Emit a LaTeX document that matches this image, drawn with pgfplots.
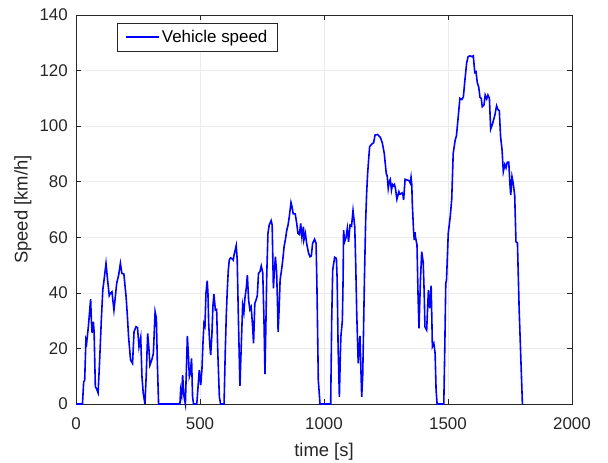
\documentclass[border=0pt]{standalone}
\usepackage{fontspec}
\setmainfont{Liberation Sans}
\usepackage{pgfplots}
\pgfplotsset{compat=1.18}

\definecolor{axcol}{RGB}{38,38,38}
\definecolor{gridcol}{RGB}{235,235,235}

\begin{document}
\begin{tikzpicture}
\begin{axis}[
  scale only axis, width=496bp, height=389bp,
  at={(0,0)}, anchor=south west,
  xmin=0, xmax=2000, ymin=0, ymax=140,
  clip=false,
  xtick={0,500,1000,1500,2000}, ytick={0,20,40,60,80,100,120,140},
  scaled ticks=false,
  /pgf/number format/1000 sep={},
  /pgf/number format/assume math mode=true,
  grid=major, grid style={gridcol, line width=0.6bp},
  tick align=inside, major tick length=5bp,
  axis line style={axcol, line width=0.6bp},
  every tick/.style={axcol, line width=0.6bp},
  tick label style={font=\fontsize{17}{19}\selectfont, text=axcol},
  xticklabel style={anchor=center, yshift=-20bp},
  yticklabel style={anchor=east, inner sep=0pt, xshift=-8bp},
  label style={font=\fontsize{18.5}{21}\selectfont, text=axcol},
  xlabel={time [s]}, ylabel={Speed [km/h]},
  xlabel style={at={(axis description cs:0.5,-0.124)}, anchor=center},
  ylabel style={at={(axis description cs:-0.107,0.5)}, anchor=center},
  legend style={at={(rel axis cs:0.083,0.979)}, anchor=north west,
    draw=axcol, fill=white,
    font=\fontsize{17}{19}\selectfont, inner xsep=8bp, inner ysep=5bp},
  legend cell align=left,
  legend image code/.code={\draw[#1, draw=blue, line width=1.6bp] (0bp,0bp) -- (33bp,0bp);},
]
\addplot[draw=blue, line width=1.6bp] coordinates {
(0,0) (26,0) (31,8) (35,8.5) (40,23) (43,22) (50,28) (59,37.7) (62,30) (65,25.5)
(70,29.6) (73,26) (78,6.2) (83,5.5) (89,4) (95,15) (102,30) (108,41) (115,46) (121,50.6)
(127,45) (134,39) (140,40) (145,40.4) (153,33.8) (158,38) (164,43.4) (172,46.4) (179,50.6) (185,47)
(193,46.8) (202,38.6) (207,32) (212,24.2) (220,15.8) (228,14.6) (234,26) (242,27.8) (248,27.5) (254,20.6)
(261,24) (266,9.8) (271,4) (278,0) (283,10) (289,25.4) (294,20) (298,14) (306,16) (312,18.2)
(319,33.2) (324,31) (328,15) (333,0) (419,0) (422,5) (426,3) (430,10.4) (435,3) (441,0)
(445,12) (449,24.5) (453,18) (457,9.8) (461,11) (466,16.4) (470,2.6) (474,0) (487,0) (492,6)
(497,12.2) (503,6.8) (508,12.8) (512,22) (516,29) (520,28) (524,39.8) (529,44.4) (532,40) (535,29)
(539,22) (543,17.6) (548,25) (552,35) (556,39.6) (562,33.8) (567,34) (572,18) (578,2.6) (583,0)
(597,0) (602,19.4) (606,32) (610,41) (614,48) (618,51.8) (623,52.6) (628,52.4) (634,51.8) (638,54)
(642,55.4) (646,57) (650,52) (655,30) (661,6.5) (666,20) (672,35.6) (677,33) (681,38) (687,42)
(691,46.4) (696,37.4) (701,34) (706,35) (708,33) (712,28) (716,21.8) (721,36.2) (726,37.4) (731,39)
(736,47) (742,47.7) (747,49.7) (753,47.3) (758,30) (762,10.8) (766,30) (769,45.8) (774,61.4) (779,64.4)
(787,66) (791,64.4) (793,55) (796,41.6) (800,48) (804,53) (809,47.3) (812,38) (815,26) (819,34)
(823,44.6) (830,49) (834,52) (839,56.6) (844,59) (850,62.6) (855,64.4) (860,67.4) (867,72.5) (871,71)
(876,68.4) (884,68.4) (890,65) (895,61.4) (901,61) (906,65) (911,60) (917,63.8) (919,59) (925,61.4)
(930,57.8) (938,54.2) (944,53) (949,53.3) (954,57.8) (962,59.3) (968,57.8) (971,45) (973,33.8) (977,8.6)
(984,0) (1027,0) (1031,30) (1035,48) (1038,50) (1043,52.8) (1050,52.4) (1053,45) (1057,20) (1062,2.6)
(1066,18) (1068,24.2) (1074,30) (1077,45) (1079,62.6) (1083,58.4) (1089,60) (1094,63.2) (1099,58.4) (1105,64.4)
(1111,64) (1117,69.6) (1124,63.8) (1128,50) (1132,32.6) (1138,14.6) (1145,24.5) (1152,2.6) (1156,10) (1159,24)
(1163,45) (1168,66) (1172,76) (1176,83) (1180,88) (1184,92.6) (1192,93.5) (1200,94) (1206,96.8) (1216,97)
(1227,96) (1235,94) (1243,90.2) (1251,83) (1255,82) (1259,77.6) (1263,80) (1267,80.8) (1272,77) (1276,79)
(1280,78.5) (1284,79) (1288,77.6) (1294,73.7) (1298,75) (1302,76.4) (1306,75.5) (1310,75.6) (1315,76) (1318,75.5)
(1321,73.4) (1327,80.9) (1335,80.6) (1343,80.4) (1348,79.5) (1351,81.6) (1354,79) (1356,72.2) (1361,62.6) (1364,59)
(1367,61.8) (1369,60) (1375,57.2) (1379,40) (1383,27.2) (1389,45) (1394,54.8) (1400,51) (1404,40) (1407,27.8)
(1414,26.6) (1418,35) (1421,41) (1426,34.4) (1432,42.6) (1435,30) (1437,20.6) (1443,21.8) (1448,18.2) (1452,5)
(1456,0) (1483,0) (1487,20) (1491,43.4) (1494,44.6) (1501,61.4) (1509,67.4) (1515,73.7) (1521,90.2) (1529,95)
(1534,96.5) (1540,102.2) (1548,110) (1556,109.6) (1562,110.5) (1567,115.5) (1575,122.6) (1581,125) (1589,125.3) (1597,125)
(1602,125.3) (1608,119.3) (1613,119.6) (1618,115.7) (1624,114) (1629,110.4) (1634,110) (1638,107) (1645,107.6) (1650,111.2)
(1656,109.8) (1661,111.2) (1667,110) (1672,98.9) (1680,101) (1689,104) (1696,107.3) (1701,106) (1707,105.5) (1712,96.2)
(1718,91.4) (1723,83.6) (1729,86.2) (1734,85) (1739,87) (1745,87) (1750,78.8) (1753,75.2) (1758,81.8) (1763,79.4)
(1769,75) (1774,58.4) (1780,58) (1787,33.8) (1800,0)
};
\addlegendentry{Vehicle speed}
\end{axis}
\pgfresetboundingbox
\path (-76bp,-59bp) rectangle (532bp,404bp);
\end{tikzpicture}
\end{document}
